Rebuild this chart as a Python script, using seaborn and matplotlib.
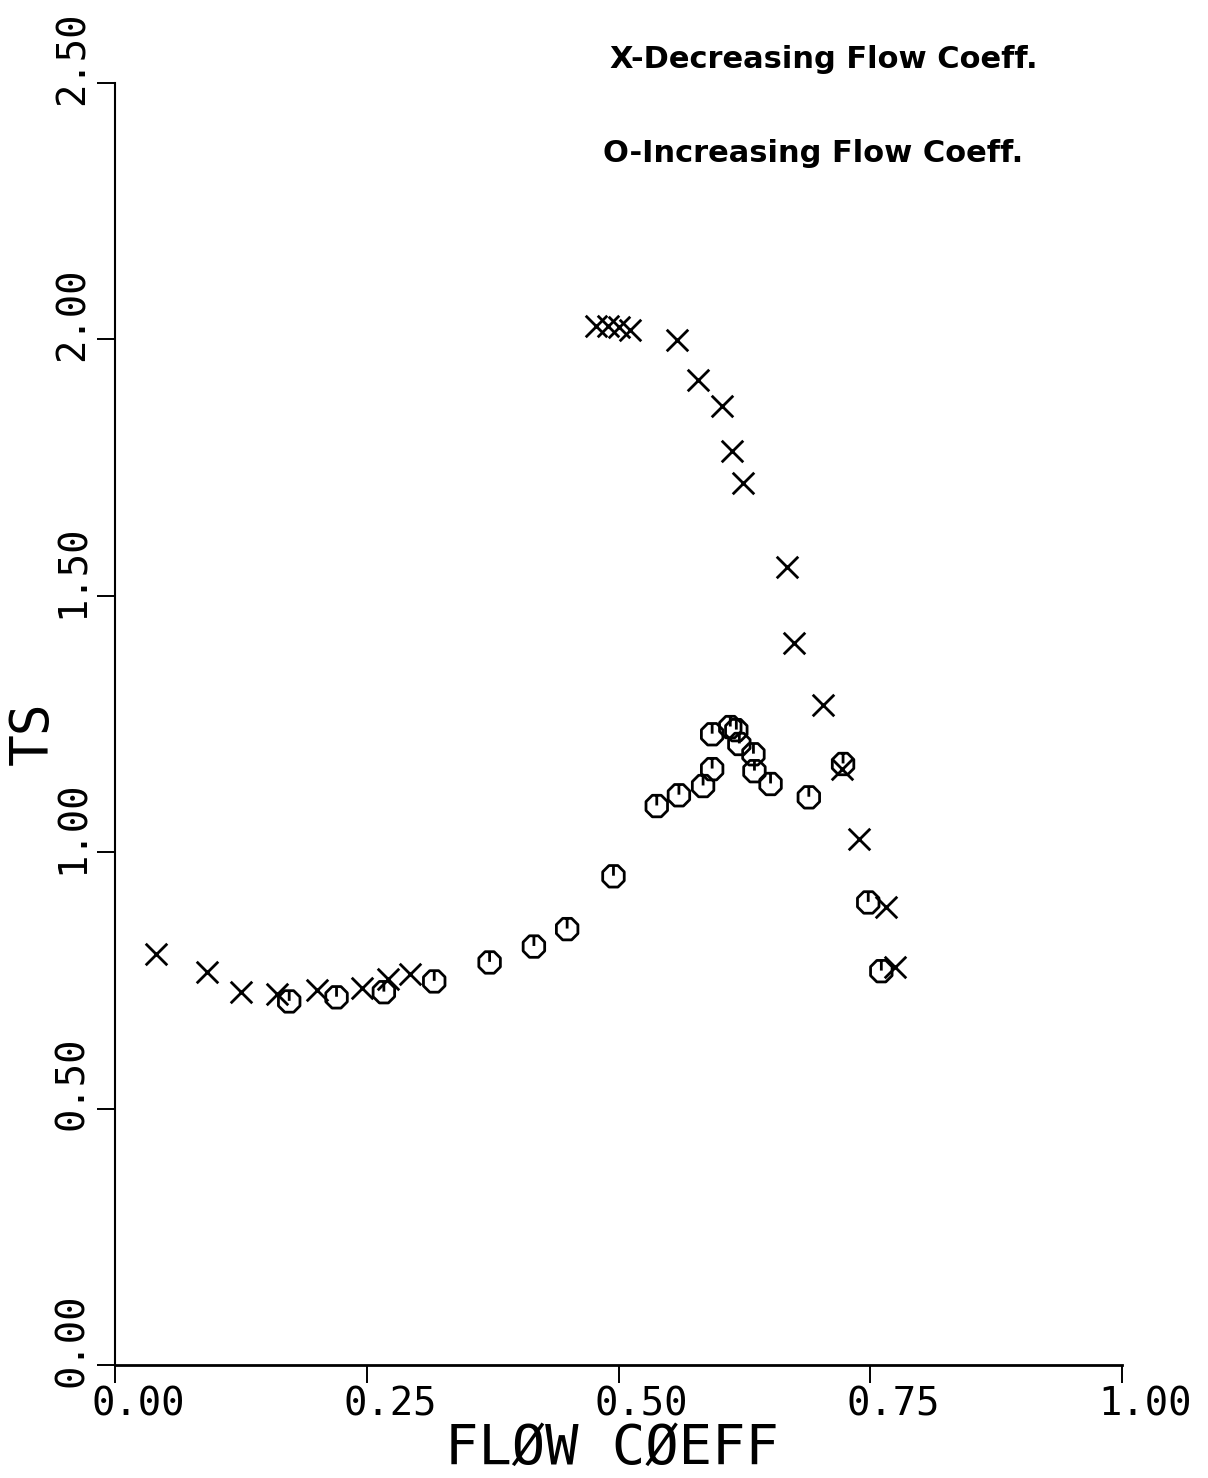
import numpy as np
import pandas as pd
import matplotlib
matplotlib.use("Agg")
import matplotlib.pyplot as plt
import matplotlib.transforms as mtransforms
from matplotlib.path import Path
import seaborn as sns

# ---- data ----
dec_flow = [0.041, 0.091, 0.125, 0.161, 0.201, 0.245, 0.271, 0.293,
            0.478, 0.490, 0.500, 0.511, 0.558, 0.579, 0.603, 0.613, 0.624,
            0.667, 0.674, 0.703, 0.722, 0.739, 0.766, 0.775]
dec_ts = [0.801, 0.766, 0.727, 0.723, 0.732, 0.736, 0.752, 0.762,
          2.027, 2.027, 2.025, 2.019, 1.998, 1.920, 1.871, 1.783, 1.719,
          1.557, 1.408, 1.287, 1.162, 1.025, 0.893, 0.777]

inc_flow = [0.173, 0.220, 0.267, 0.317, 0.372, 0.416, 0.449, 0.495,
            0.538, 0.560, 0.584, 0.593, 0.593, 0.611, 0.617, 0.620, 0.634,
            0.635, 0.651, 0.689, 0.723, 0.748, 0.761]
inc_ts = [0.709, 0.717, 0.727, 0.748, 0.785, 0.816, 0.850, 0.953,
          1.090, 1.111, 1.129, 1.162, 1.230, 1.244, 1.238, 1.211, 1.191,
          1.158, 1.133, 1.107, 1.172, 0.902, 0.768]

x_ticks = [0.00, 0.25, 0.50, 0.75, 1.00]
x_ticklabels = ["0.00", "0.25", "0.50", "0.75", "1.00"]
y_ticks = [0.00, 0.50, 1.00, 1.50, 2.00, 2.50]
y_ticklabels = ["0.00", "0.50", "1.00", "1.50", "2.00", "2.50"]

legend_dec = "X-Decreasing Flow Coeff."
legend_inc = "O-Increasing Flow Coeff."
x_label = "FLØW CØEFF"
y_label = "TS"

df_dec = pd.DataFrame({"flow": dec_flow, "ts": dec_ts})
df_inc = pd.DataFrame({"flow": inc_flow, "ts": inc_ts})

# ---- style ----
sns.set_style("white")
plt.rcParams["font.family"] = ["DejaVu Sans Mono", "DejaVu Sans"]
plt.rcParams["text.color"] = "black"

W, H = 1208, 1478
fig = plt.figure(figsize=(W / 100, H / 100), dpi=100)
left, right, bottom, top = 115, 1122, 1365, 83
ax = fig.add_axes([left / W, 1 - bottom / H, (right - left) / W, (bottom - top) / H])

# octagon with a radius tick (plotter-style "O" symbol)
ang = np.deg2rad(22.5 + 45 * np.arange(8))
verts = [(np.cos(a), np.sin(a)) for a in ang]
top_y = np.cos(np.deg2rad(22.5))
verts_all = verts + [verts[0], (0, top_y), (0, 0.05)]
codes = [Path.MOVETO] + [Path.LINETO] * 7 + [Path.CLOSEPOLY, Path.MOVETO, Path.LINETO]
oct_marker = Path(verts_all, codes)

sns.scatterplot(data=df_inc, x="flow", y="ts", ax=ax, marker=oct_marker,
                s=240, facecolor="none", edgecolor="black", color="black",
                linewidth=2.0, zorder=3)
sns.scatterplot(data=df_dec, x="flow", y="ts", ax=ax, marker="x",
                s=240, color="black", linewidth=2.0, zorder=4)

ax.set_xlim(0, 1.0)
ax.set_ylim(0, 2.5)
ax.set_xticks(x_ticks)
ax.set_yticks(y_ticks)
ax.set_xticklabels(x_ticklabels, fontsize=28)
ax.set_yticklabels(y_ticklabels, fontsize=28, rotation=90, va="center")

for s in ["top", "right"]:
    ax.spines[s].set_visible(False)
ax.spines["left"].set_linewidth(1.5)
ax.spines["bottom"].set_linewidth(2.0)
for s in ["left", "bottom"]:
    ax.spines[s].set_color("black")

ax.tick_params(axis="both", direction="out", length=13, width=1.4, colors="black",
               bottom=True, left=True, top=False, right=False)
ax.tick_params(axis="x", pad=2)
ax.tick_params(axis="y", pad=4)

# shift tick labels so the decimal point sits next to the tick (plotter style)
offx = mtransforms.ScaledTranslation(0.23, 0, fig.dpi_scale_trans)
for lab in ax.get_xticklabels():
    lab.set_transform(lab.get_transform() + offx)
offy = mtransforms.ScaledTranslation(0, 0.25, fig.dpi_scale_trans)
for lab in ax.get_yticklabels():
    lab.set_transform(lab.get_transform() + offy)

ax.set_xlabel("")
ax.set_ylabel("")
fig.text(612 / W, 1 - 1449 / H, x_label, fontsize=40, ha="center", va="center", color="black")
fig.text(33 / W, 1 - 733 / H, y_label, fontsize=38, ha="center", va="center",
         rotation=90, color="black")

fig.text(610 / W, 1 - 59 / H, legend_dec, fontsize=22, fontweight="bold",
         family=["DejaVu Sans"], ha="left", va="center", color="black")
fig.text(603 / W, 1 - 153 / H, legend_inc, fontsize=22, fontweight="bold",
         family=["DejaVu Sans"], ha="left", va="center", color="black")

fig.savefig("out.png", dpi=100, facecolor="white")
